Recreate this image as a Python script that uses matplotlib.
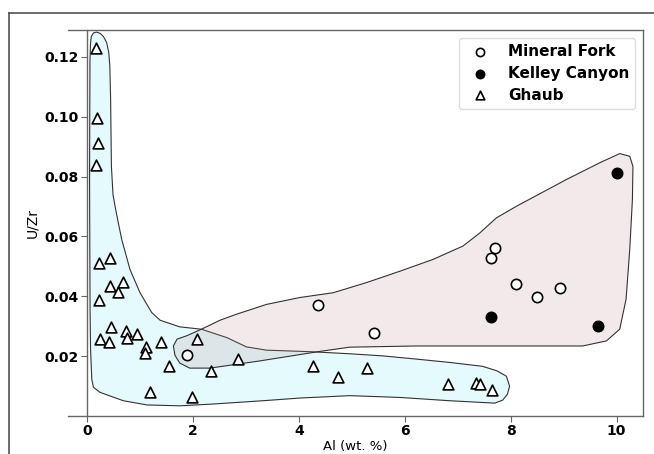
import matplotlib
matplotlib.use("Agg")
import matplotlib.pyplot as plt
from matplotlib.patches import Polygon
from matplotlib.lines import Line2D

# Mineral Fork (open circles)
MF_AL = [1.88, 4.36, 5.41, 7.70, 7.62, 8.11, 8.50, 8.94]
MF_UZR = [0.0203, 0.0371, 0.0279, 0.0562, 0.0529, 0.0440, 0.0399, 0.0427]

# Kelley Canyon (filled circles)
KC_AL = [7.62, 9.65, 10.00]
KC_UZR = [0.0331, 0.0301, 0.0812]

# Ghaub (open triangles)
GH_AL = [0.17, 0.19, 0.21, 0.16, 0.23, 0.43, 0.43, 0.67, 0.59, 0.23, 0.45, 0.25,
         0.42, 0.73, 0.75, 0.95, 1.11, 1.09, 1.40, 2.08, 1.54, 2.35, 2.86, 1.19,
         1.98, 4.27, 4.74, 5.29, 6.82, 7.34, 7.42, 7.64]
GH_UZR = [0.1229, 0.0996, 0.0912, 0.0838, 0.0512, 0.0529, 0.0434, 0.0448, 0.0414,
          0.0388, 0.0296, 0.0257, 0.0246, 0.0284, 0.0262, 0.0273, 0.0231, 0.0210,
          0.0246, 0.0259, 0.0168, 0.0151, 0.0190, 0.0081, 0.0062, 0.0166, 0.0129,
          0.0159, 0.0106, 0.0109, 0.0106, 0.0087]

# hand drawn envelope around the Ghaub samples
GH_HULL_X = [0.057, 0.047, 0.055, 0.065, 0.08, 0.12, 0.18, 0.245, 0.31, 0.37, 0.41,
             0.43, 0.445, 0.46, 0.49, 0.53, 0.585, 0.655, 0.81, 1.00, 1.22, 1.38,
             1.75, 2.16, 2.64, 3.01, 3.39, 4.21, 4.96, 5.58, 6.23, 6.85, 7.47, 7.74,
             7.92, 7.98, 7.94, 7.85, 7.70, 6.85, 5.91, 4.96, 4.02, 3.32, 2.38, 1.75,
             1.13, 0.685, 0.245, 0.12, 0.089, 0.066]
GH_HULL_Y = [0.0347, 0.079, 0.119, 0.1245, 0.1268, 0.1280, 0.1283, 0.1279, 0.1268,
             0.1248, 0.1215, 0.117, 0.1057, 0.0834, 0.074, 0.070, 0.065, 0.059,
             0.049, 0.0412, 0.0346, 0.032, 0.0298, 0.029, 0.0262, 0.0231, 0.022,
             0.0215, 0.0208, 0.0201, 0.019, 0.0179, 0.0166, 0.0151, 0.0133, 0.010,
             0.0073, 0.0053, 0.0043, 0.0051, 0.0062, 0.0068, 0.006, 0.0051, 0.004,
             0.0034, 0.0037, 0.0051, 0.0079, 0.0096, 0.0123, 0.0223]

# hand drawn envelope around Mineral Fork + Kelley Canyon
MK_HULL_X = [1.63, 1.70, 1.88, 2.16, 2.51, 2.82, 3.39, 4.02, 4.65, 5.28, 5.91, 6.53,
             7.10, 7.42, 7.73, 8.11, 9.05, 9.68, 10.06, 10.25, 10.31, 10.30, 10.25,
             10.18, 10.06, 9.81, 9.36, 7.79, 6.22, 4.96, 4.40, 3.26, 2.32, 1.94,
             1.75, 1.66]
MK_HULL_Y = [0.0234, 0.0257, 0.0268, 0.029, 0.032, 0.034, 0.0373, 0.0396, 0.0412,
             0.0446, 0.0484, 0.0523, 0.0568, 0.0612, 0.0662, 0.0701, 0.079, 0.0846,
             0.0877, 0.0868, 0.0834, 0.0723, 0.0557, 0.039, 0.029, 0.0251, 0.0234,
             0.0234, 0.0234, 0.023, 0.0216, 0.0184, 0.016, 0.016, 0.0177, 0.0203]

X_TICKS = [0, 2, 4, 6, 8, 10]
Y_TICKS = [0.02, 0.04, 0.06, 0.08, 0.10, 0.12]

fig = plt.figure(figsize=(6.54, 4.54), dpi=100)
ax = fig.add_axes([68 / 654, 38 / 454, 575 / 654, 386 / 454])

ax.add_patch(Polygon(list(zip(GH_HULL_X, GH_HULL_Y)), closed=True,
                     facecolor="#e4fafc", edgecolor="#333333", lw=0.8,
                     joinstyle="round", zorder=1))
ax.add_patch(Polygon(list(zip(MK_HULL_X, MK_HULL_Y)), closed=True,
                     facecolor=(188 / 255, 143 / 255, 143 / 255, 0.18),
                     edgecolor="#333333", lw=0.8, joinstyle="round", zorder=2))

ax.scatter(MF_AL, MF_UZR, s=55, marker="o", facecolor="white", edgecolor="black",
           linewidth=1.2, label="Mineral Fork", zorder=3)
ax.scatter(KC_AL, KC_UZR, s=55, marker="o", facecolor="black", edgecolor="black",
           linewidth=1.2, label="Kelley Canyon", zorder=3)
ax.scatter(GH_AL, GH_UZR, s=60, marker="^", facecolor="white", edgecolor="black",
           linewidth=1.2, label="Ghaub", zorder=3)

ax.set_xlim(-0.36, 10.5)
ax.set_ylim(0, 0.129)
ax.spines["left"].set_position(("data", 0))
for sp in ax.spines.values():
    sp.set_color("#666666")
    sp.set_linewidth(1.0)

ax.set_xticks(X_TICKS)
ax.set_yticks(Y_TICKS)
ax.set_xticklabels([str(t) for t in X_TICKS], fontweight="bold", fontsize=10)
ax.set_yticklabels(["%.2f" % t for t in Y_TICKS], fontweight="bold", fontsize=10)
ax.tick_params(length=4, width=0.8, color="#666666", pad=2)

ax.set_xlabel("Al (wt. %)", fontsize=9.5, labelpad=1)
ax.set_ylabel("U/Zr", fontsize=10, labelpad=4)

ax.legend(loc="upper right", prop={"weight": "bold", "size": 11},
          labelspacing=0.45, borderaxespad=0.5, handletextpad=0.8,
          markerscale=0.8, edgecolor="#dddddd", framealpha=1.0)

# outer border of the screenshot (top and left only)
fig.add_artist(Line2D([9 / 654, 1.0], [1 - 13 / 454, 1 - 13 / 454],
                      transform=fig.transFigure, color="#444444", lw=1.1))
fig.add_artist(Line2D([9 / 654, 9 / 654], [0.0, 1 - 13 / 454],
                      transform=fig.transFigure, color="#444444", lw=1.1))

fig.savefig("out.png", dpi=100)
